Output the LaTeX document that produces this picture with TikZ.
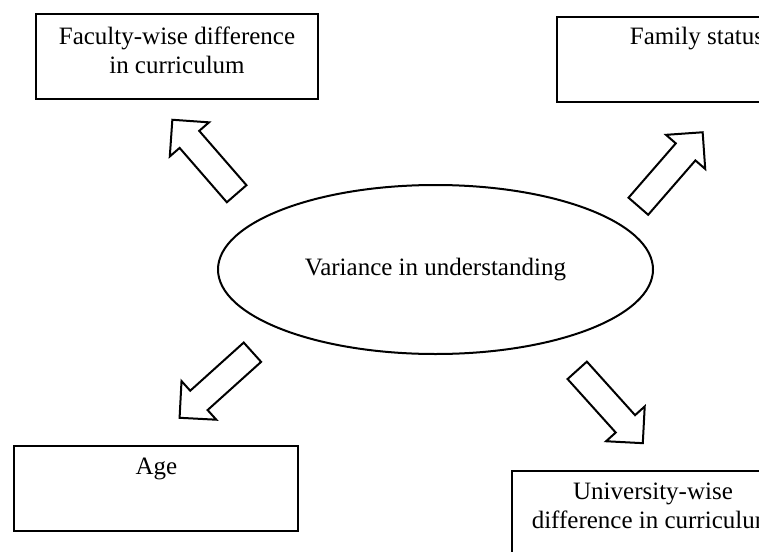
\documentclass[tikz,border=0pt]{standalone}
\usepackage{fontspec}
\setmainfont{Liberation Serif}
\usetikzlibrary{calc,shapes.geometric}
\tikzset{
  box/.style={draw, line width=2pt, minimum width=282pt, minimum height=85pt, inner sep=0pt},
  lbl/.style={font=\fontsize{25}{28.5}\selectfont, align=center, inner sep=0pt},
  blk/.style={draw, line width=2pt, fill=white, line join=miter},
  blockarrow/.pic={\draw[blk] (-49,-13) -- (23,-13) -- (23,-26) -- (49,0) -- (23,26) -- (23,13) -- (-49,13) -- cycle;}
}
\begin{document}
\begin{tikzpicture}[x=1pt,y=-1pt]
\useasboundingbox (0,0) rectangle (759,551);
\clip (0,0) rectangle (759,551);
% boxes
\node[box] (fac) at (177,56.5) {};
\node[box] (fam) at (698,59.5) {};
\node[box, minimum width=284pt] (age) at (156,488.5) {};
\node[box] (uni) at (653,513.5) {};
% labels (base anchor = last line's baseline)
\node[lbl, anchor=base] (facT) at (177,73) {Faculty-wise difference\\in curriculum};
\node[lbl, anchor=base] (famT) at (697,45) {Family status};
\node[lbl, anchor=base] (ageT) at (156.5,474) {Age};
\node[lbl, anchor=base] (uniT) at (653,528) {University-wise\\difference in curriculum};
% ellipse
\node[ellipse, draw, line width=2pt, minimum width=435pt, minimum height=169pt, inner sep=0pt,
      font=\fontsize{25}{29}\selectfont] (var) at (435.5,269.5) {Variance in understanding};
% block arrows
\pic (a1) [rotate=131] at (204.5,156.75) {blockarrow};
\pic (a2) [rotate=49] at (670.5,169.25) {blockarrow};
\pic (a3) [rotate=222] at (216,385) {blockarrow};
\pic (a4) [rotate=-48] at (610,406.75) {blockarrow};
\end{tikzpicture}
\end{document}
